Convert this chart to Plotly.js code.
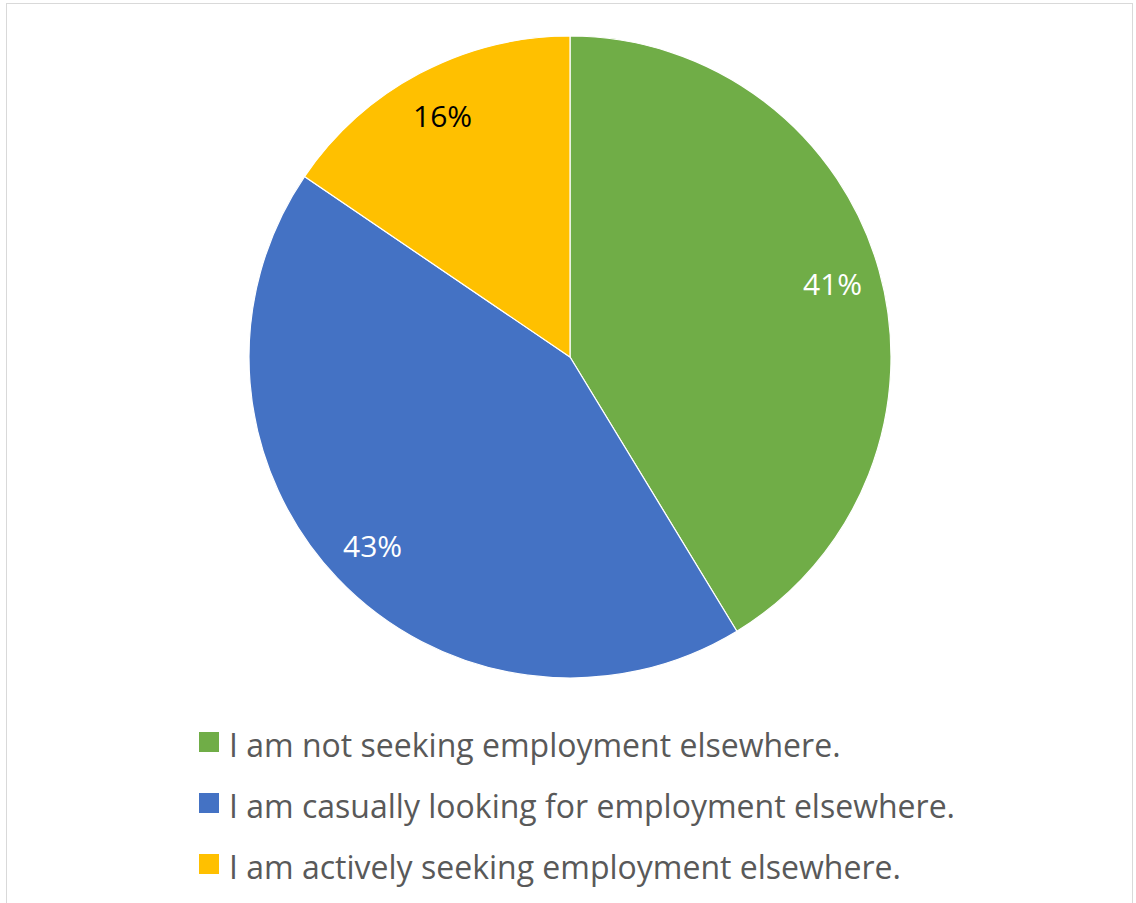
<!DOCTYPE html>
<html>
<head>
<meta charset="utf-8">
<script src="https://cdn.plot.ly/plotly-3.0.1.min.js"></script>
<style>
html,body{margin:0;padding:0;background:#fff;}
#frame{position:absolute;left:6px;top:3px;width:1127px;height:905px;border:1.5px solid #d9d9d9;box-sizing:border-box;pointer-events:none;}
#chart{position:absolute;left:0;top:0;width:1136px;height:903px;}
</style>
</head>
<body>
<div id="chart"></div>
<div id="frame"></div>
<script>
const categories = [
  "I am not seeking employment elsewhere.",
  "I am casually looking for employment elsewhere.",
  "I am actively seeking employment elsewhere."
];
const shares = [41.3, 43.2, 15.5];
const sliceColors = ["#70AD47", "#4472C4", "#FFC000"];
const labelColors = ["#ffffff", "#ffffff", "#000000"];

const W = 1136, H = 903;
const cx = 570, cy = 357, R = 321;
const labelR = 0.85 * R;

const trace = {
  type: "pie",
  labels: categories,
  values: shares,
  sort: false,
  direction: "clockwise",
  rotation: 0,
  marker: {colors: sliceColors, line: {color: "#ffffff", width: 1.2}},
  textinfo: "none",
  domain: {x: [(cx - R) / W, (cx + R) / W], y: [(H - cy - R) / H, (H - cy + R) / H]},
  hoverinfo: "label+percent",
  showlegend: false
};

// percentage labels placed at slice mid-angles computed from the data
const total = shares.reduce((a, b) => a + b, 0);
const annotations = [];
let cum = 0;
shares.forEach((v, i) => {
  const th = 2 * Math.PI * (cum + v / 2) / total;
  cum += v;
  const px = cx + labelR * Math.sin(th);
  const py = cy - labelR * Math.cos(th);
  annotations.push({
    xref: "paper", yref: "paper", x: px / W, y: (H - py) / H,
    xanchor: "center", yanchor: "middle", showarrow: false,
    text: Math.round(100 * v / total) + "%",
    font: {family: "Open Sans, sans-serif", size: 30, color: labelColors[i]}
  });
});

// legend (manual, to match spacing and swatch size)
const legX = 199, legY0 = 742, legStep = 61, sw = 20;
const shapes = [];
categories.forEach((c, i) => {
  const yc = legY0 + i * legStep;
  shapes.push({
    type: "rect", xref: "paper", yref: "paper",
    x0: legX / W, x1: (legX + sw) / W,
    y0: (H - yc - sw / 2) / H, y1: (H - yc + sw / 2) / H,
    fillcolor: sliceColors[i], line: {width: 0}
  });
  annotations.push({
    xref: "paper", yref: "paper", x: 227 / W, y: (H - yc - 2) / H,
    xanchor: "left", yanchor: "middle", showarrow: false,
    text: c,
    font: {family: "Open Sans, sans-serif", size: 32, color: "#595959"}
  });
});

const layout = {
  width: W, height: H,
  margin: {l: 0, r: 0, t: 0, b: 0},
  paper_bgcolor: "#ffffff",
  showlegend: false,
  annotations: annotations,
  shapes: shapes
};

Plotly.newPlot("chart", [trace], layout, {displayModeBar: false, staticPlot: true});
</script>
</body>
</html>
